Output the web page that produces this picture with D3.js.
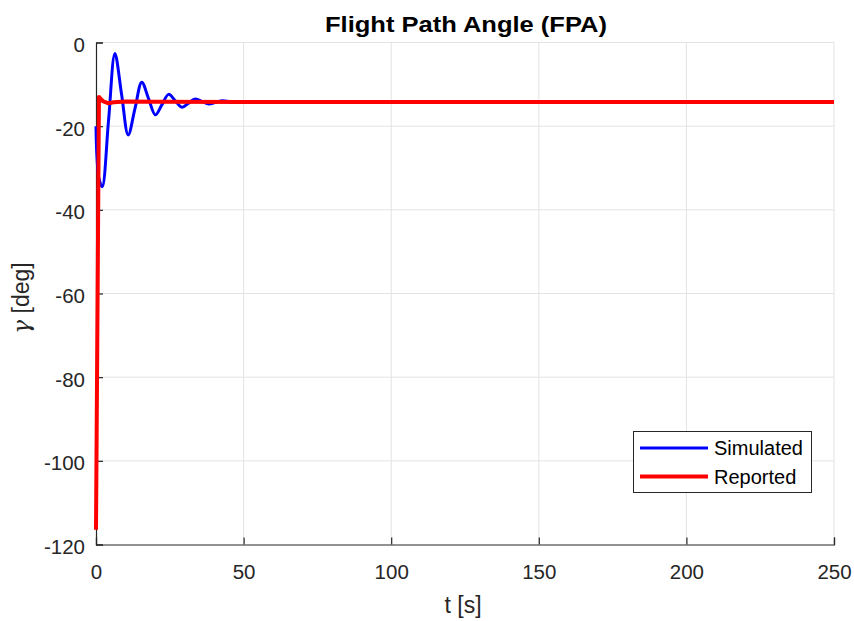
<!DOCTYPE html>
<html>
<head>
<meta charset="utf-8">
<script src="https://cdn.jsdelivr.net/npm/d3@7/dist/d3.min.js"></script>
<style>
  body { margin: 0; background: #fff; }
  svg { display: block; font-family: "Liberation Sans", Arial, sans-serif; }
</style>
</head>
<body>
<svg id="chart" width="854" height="621"></svg>
<script>
// Simulated flight path angle response (time [s], gamma [deg])
const simT = [0, 0.3, 1.0, 2.1, 4.25, 6.4, 8.65, 10.9, 13.2, 15.5, 17.8, 20.1, 22.35, 24.6, 26.85, 29.1, 31.35, 33.6, 35.9, 38.2, 40.55, 42.9, 45.3, 47.6, 50, 55, 60, 100, 150, 200, 250];
const simG = [-20, -27, -32.5, -34.5, -18.6, -2.6, -12.3, -22.1, -15.8, -9.5, -13.4, -17.3, -14.85, -12.4, -13.95, -15.5, -14.5, -13.5, -14.1, -14.7, -14.3, -13.9, -14.2, -14.35, -14.2, -14.2, -14.2, -14.2, -14.2, -14.2, -14.2];

// Reported flight path angle
const repT = [0, 1.0, 1.5, 2.5, 4, 6, 10, 20, 50, 100, 150, 200, 250];
const repG = [-116.5, -13.0, -13.4, -14.1, -14.5, -14.3, -14.1, -14.15, -14.2, -14.2, -14.2, -14.2, -14.2];

const xTicks = [0, 50, 100, 150, 200, 250];
const yTicks = [-120, -100, -80, -60, -40, -20, 0];

const margin = { left: 96, right: 20, top: 42.5, bottom: 76.5 };
const W = 854, H = 621;
const svg = d3.select("#chart");

const x = d3.scaleLinear().domain([0, 250]).range([margin.left, W - margin.right]);
const y = d3.scaleLinear().domain([-120, 0]).range([H - margin.bottom, margin.top]);

const axisColor = "#262626";
const gridColor = "#e3e3e3";
const fmt = d => String(d);

// Grid
const grid = svg.append("g");
grid.selectAll("line.gx").data(xTicks.slice(1)).join("line")
  .attr("x1", d => x(d)).attr("x2", d => x(d))
  .attr("y1", y(-120)).attr("y2", y(0))
  .attr("stroke", gridColor).attr("stroke-width", 1);
grid.selectAll("line.gy").data(yTicks.slice(1)).join("line")
  .attr("x1", x(0)).attr("x2", x(250))
  .attr("y1", d => y(d)).attr("y2", d => y(d))
  .attr("stroke", gridColor).attr("stroke-width", 1);

// Axes (ticks pointing inward)
const xAxis = d3.axisBottom(x).tickValues(xTicks).tickSize(-7).tickFormat(fmt);
const yAxis = d3.axisLeft(y).tickValues(yTicks).tickSize(-7).tickFormat(fmt);

const gx = svg.append("g").attr("transform", `translate(0,${y(-120)})`).call(xAxis);
const gy = svg.append("g").attr("transform", `translate(${x(0)},0)`).call(yAxis);
[gx, gy].forEach(g => {
  g.select(".domain").attr("stroke", axisColor).attr("stroke-width", 1.2);
  g.selectAll(".tick line").attr("stroke", axisColor).attr("stroke-width", 1.2);
  g.selectAll(".tick text").attr("fill", axisColor).style("font-size", "20.5px")
    .style("font-family", "'Liberation Sans', Arial, sans-serif");
});
gx.selectAll(".tick text").attr("dy", null).attr("y", 34);
gy.selectAll(".tick text").attr("dy", "0.36em").attr("x", -11).attr("y", 1.5);

// Lines
const line = d3.line().x(d => x(d[0])).y(d => y(d[1]));
const simData = simT.map((t, i) => [t, simG[i]]);
const repData = repT.map((t, i) => [t, repG[i]]);

svg.append("clipPath").attr("id", "plotClip").append("rect")
  .attr("x", x(0) - 3).attr("y", y(0) - 3).attr("width", x(250) - x(0) + 6).attr("height", y(-120) - y(0) + 6);

svg.append("path").datum(simData)
  .attr("d", line.curve(d3.curveCatmullRom.alpha(0.5)))
  .attr("fill", "none").attr("stroke", "#0000ff").attr("stroke-width", 3)
  .attr("stroke-linejoin", "round").attr("clip-path", "url(#plotClip)");

svg.append("path").datum(repData)
  .attr("d", d3.line().x(d => x(d[0])).y(d => y(d[1])).curve(d3.curveLinear))
  .attr("fill", "none").attr("stroke", "#ff0000").attr("stroke-width", 4)
  .attr("stroke-linejoin", "round").attr("clip-path", "url(#plotClip)");

// Title and axis labels
svg.append("text").attr("x", (x(0) + x(250)) / 2 + 1).attr("y", 32)
  .attr("text-anchor", "middle").style("font-size", "22px").style("font-weight", "bold")
  .attr("fill", "#000").attr("textLength", 282).attr("lengthAdjust", "spacingAndGlyphs")
  .text("Flight Path Angle (FPA)");

svg.append("text").attr("x", 463).attr("y", 613)
  .attr("text-anchor", "middle").style("font-size", "23px").attr("fill", axisColor).text("t [s]");

const yl = svg.append("text")
  .attr("transform", `translate(29,298) rotate(-90)`)
  .attr("text-anchor", "middle").style("font-size", "23px").attr("fill", axisColor);
yl.append("tspan").style("font-style", "italic").style("font-family", "'DejaVu Serif', serif").text("γ");
yl.append("tspan").text(" [deg]");

// Legend
const leg = svg.append("g");
leg.append("rect").attr("x", 633.5).attr("y", 431.5).attr("width", 178).attr("height", 61)
  .attr("fill", "#fff").attr("stroke", axisColor).attr("stroke-width", 1);
const items = [["Simulated", "#0000ff", 3], ["Reported", "#ff0000", 4]];
items.forEach((it, i) => {
  const yy = 448 + i * 28.5;
  leg.append("line").attr("x1", 640).attr("x2", 708).attr("y1", yy).attr("y2", yy)
    .attr("stroke", it[1]).attr("stroke-width", it[2]);
  leg.append("text").attr("x", 714).attr("y", yy + 7).style("font-size", "20px")
    .attr("fill", "#000").text(it[0]);
});
</script>
</body>
</html>
